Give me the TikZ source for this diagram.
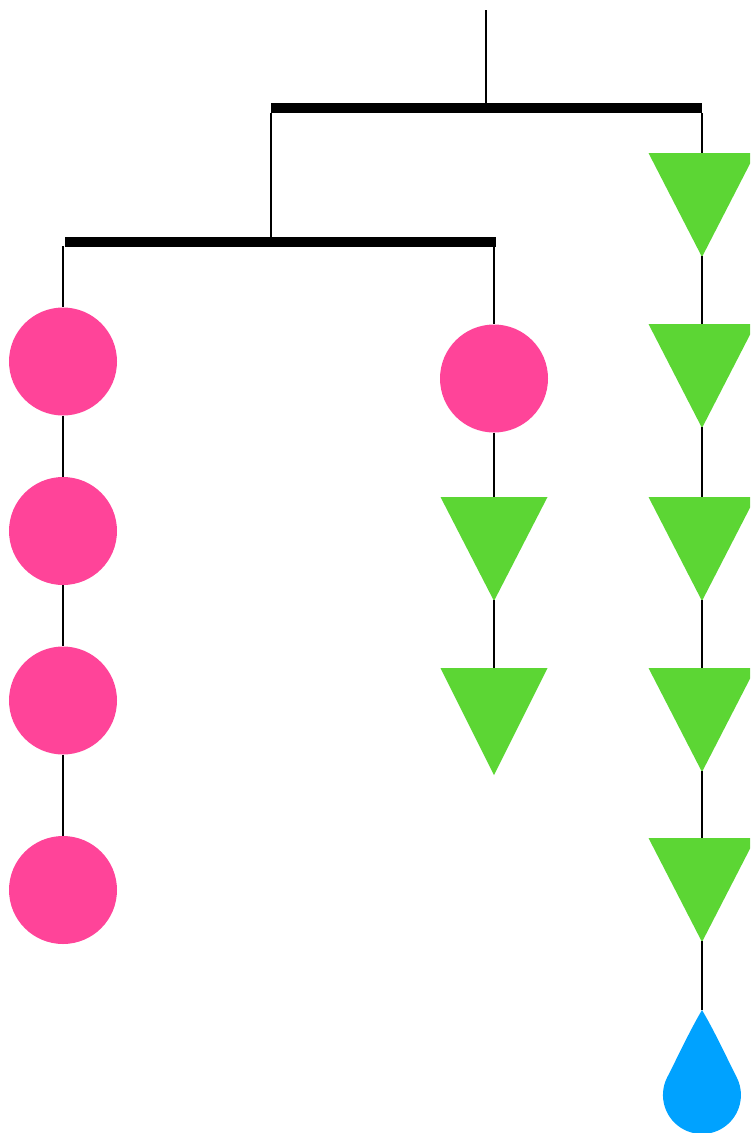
\documentclass[tikz,border=0pt]{standalone}
\begin{document}
\begin{tikzpicture}[x=1pt,y=-1pt,
  wire/.style={line width=1.6pt,black},
  barnode/.style={fill=black,rectangle,inner sep=0pt,minimum height=10pt},
  ball/.style={circle,fill=pinkc,inner sep=0pt,minimum size=108pt},
  tri/.style={fill=greenc},
  dropc/.style={fill=bluec}]
\definecolor{pinkc}{HTML}{FF4499}
\definecolor{greenc}{HTML}{5CD634}
\definecolor{bluec}{HTML}{00A2FF}
\useasboundingbox (0,0) rectangle (750,1133);
\clip (0,0) rectangle (750,1133);

% bars
\node[barnode,minimum width=431pt] (bar1) at (486.5,108) {};
\node[barnode,minimum width=431pt] (bar2) at (280.5,242) {};
\coordinate (hook) at (486,10);
\coordinate (b1top) at (486,103);
\coordinate (b1l) at (271,113);
\coordinate (b2top) at (271,237);
\coordinate (b1r) at (702,113);
\coordinate (b2l) at (63,246);
\coordinate (b2r) at (494,247);

% left column circles
\node[ball] (L1) at (63,361.5) {};
\node[ball] (L2) at (63,531) {};
\node[ball] (L3) at (63,700.5) {};
\node[ball] (L4) at (63,890) {};

% middle column
\node[ball] (M1) at (494,378.5) {};

% triangles: top-centre coordinate and apex coordinate
\newcommand{\tri}[4]{%
  \fill[tri] (#2-53.5,#3) -- (#2+53.5,#3) -- (#2,#3+#4) -- cycle;
  \coordinate (#1t) at (#2,#3);
  \coordinate (#1a) at (#2,#3+#4-1);}
\tri{M2}{494}{497}{104}
\tri{M3}{494}{668}{107}
\tri{R1}{702}{153}{104}
\tri{R2}{702}{324}{104}
\tri{R3}{702}{497}{104}
\tri{R4}{702}{668}{104}
\tri{R5}{702}{838}{104}

% drop
\coordinate (D) at (702,1010);
\fill[dropc] (702,1010) .. controls (689,1032) and (676,1060.3) .. (667.3,1077.1)
  arc[start angle=207.3,end angle=-27.3,radius=39]
  .. controls (728,1060.3) and (715,1032) .. (702,1010) -- cycle;

% wires
\draw[wire] (hook) -- (b1top);
\draw[wire] (b1l) -- (b2top);
\draw[wire] (b1r) -- (R1t);
\draw[wire] (b2l) -- (L1.north);
\draw[wire] (L1.south) -- (L2.north);
\draw[wire] (L2.south) -- (L3.north);
\draw[wire] (L3.south) -- (L4.north);
\draw[wire] (b2r) -- (M1.north);
\draw[wire] (M1.south) -- (M2t);
\draw[wire] (M2a) -- (M3t);
\draw[wire] (R1a) -- (R2t);
\draw[wire] (R2a) -- (R3t);
\draw[wire] (R3a) -- (R4t);
\draw[wire] (R4a) -- (R5t);
\draw[wire] (R5a) -- (D);
\end{tikzpicture}
\end{document}
